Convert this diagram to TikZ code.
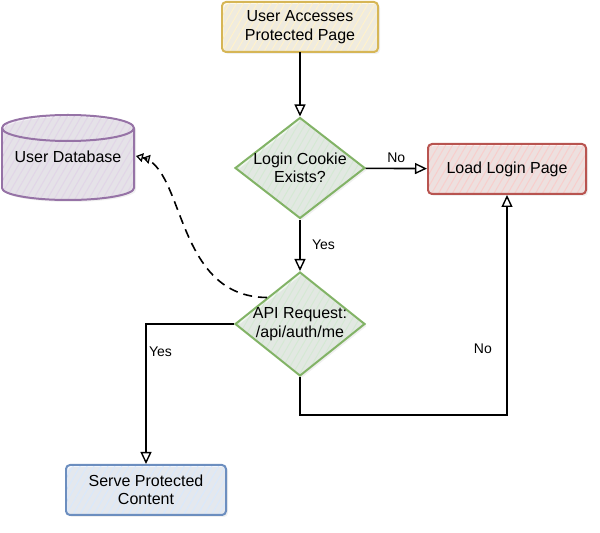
\documentclass[tikz,border=0pt]{standalone}
\usepackage{fontspec}
\setmainfont{Liberation Sans}
\usetikzlibrary{arrows.meta,positioning,shapes.geometric,patterns.meta,shadows}
\definecolor{lineyellow}{HTML}{D6B656}
\definecolor{fillyellow}{HTML}{FFF2CC}
\definecolor{linegreen}{HTML}{82B366}
\definecolor{fillgreen}{HTML}{D5E8D4}
\definecolor{linered}{HTML}{B85450}
\definecolor{fillred}{HTML}{F8CECC}
\definecolor{lineblue}{HTML}{6C8EBF}
\definecolor{fillblue}{HTML}{DAE8FC}
\definecolor{linepurple}{HTML}{9673A6}
\definecolor{fillpurple}{HTML}{E1D5E7}

\begin{document}
\begin{tikzpicture}[x=1pt,y=1pt,font=\fontsize{16pt}{18.5pt}\selectfont,
  hatch/.style={preaction={fill=#1!35!white},pattern={Lines[angle=60,distance=6pt,line width=1pt]},pattern color=#1},
  softshadow/.style={drop shadow={shadow xshift=2pt,shadow yshift=-2pt,opacity=0.12}},
  procbox/.style 2 args={draw=#1,line width=2pt,rounded corners=4pt,hatch=#2,softshadow,
    minimum width=156pt,minimum height=50pt,align=center},
  decision/.style={diamond,aspect=1.3,draw=linegreen,line width=2pt,hatch=fillgreen,softshadow,
    minimum width=130pt,minimum height=101pt,inner sep=-6pt,align=center},
  flow/.style={-{Triangle[open,length=12pt,width=11pt,line width=1.4pt]},line width=1.6pt},
  dashflow/.style={-{Triangle[open,length=7pt,width=9pt,line width=1.3pt]Triangle[open,length=7pt,width=9pt,line width=1.3pt]},
    line width=1.6pt,dash pattern=on 9pt off 6pt},
  lbl/.style={font=\fontsize{14pt}{16pt}\selectfont}]
  \useasboundingbox (0,0) rectangle (600,533);

  % steps
  \node[procbox={lineyellow}{fillyellow}] (access) at (300,506) {User Accesses\\Protected Page};
  \node[decision] (cookie) at (300,365) {Login Cookie\\Exists?};
  \node[procbox={linered}{fillred},minimum width=158pt] (login) at (507,364) {Load Login Page};
  \node[decision,minimum height=104pt] (api) at (300,209) {API Request:\\/api/auth/me};
  \node[procbox={lineblue}{fillblue},minimum width=160pt] (serve) at (146,43) {Serve Protected\\Content};

  % database, drawn by hand
  \draw[draw=linepurple,line width=2pt,hatch=fillpurple,softshadow]
    (2,405) -- (2,345) arc[start angle=180,end angle=360,x radius=66,y radius=12]
    -- (134,405) arc[start angle=0,end angle=180,x radius=66,y radius=13] -- cycle;
  \draw[draw=linepurple,line width=2pt] (2,405) arc[start angle=180,end angle=360,x radius=66,y radius=13];
  \node (db) at (68,376) {User Database};
  \coordinate (dbedge) at (136,377);

  % connectors
  \draw[flow] (access) -- (cookie);
  \draw[flow] (cookie) -- node[lbl,above=2pt]{No} (login);
  \draw[flow] (cookie) -- node[lbl,right=8pt]{Yes} (api);
  \draw[flow] (api) -| node[lbl,pos=0.6,right=-1pt]{Yes} (serve);
  \draw[flow] (api.south) -- ++(0,-38) -| node[lbl,pos=0.65,left=11pt]{No} (login.south);
  \draw[dashflow] (api.north west) .. controls (175,236) and (185,365) .. (dbedge);
\end{tikzpicture}
\end{document}
